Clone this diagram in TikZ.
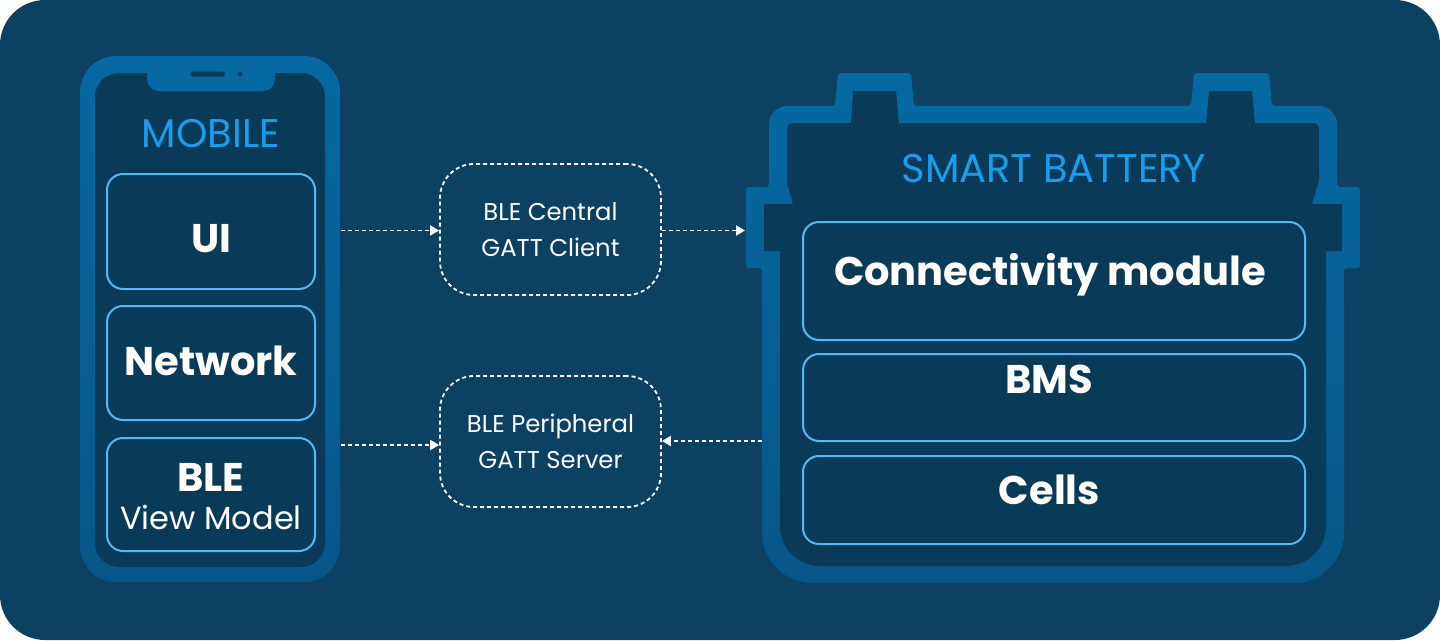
\documentclass[tikz,border=0pt]{standalone}
\usepackage{fontspec}
\setmainfont{Poppins}
\usetikzlibrary{arrows.meta,positioning,calc}

\definecolor{bgblue}{HTML}{0D4161}
\definecolor{screenblue}{HTML}{093B59}
\definecolor{frametop}{HTML}{0669A2}
\definecolor{framebot}{HTML}{075688}
\definecolor{edgeblue}{HTML}{55B8F2}
\definecolor{titleblue}{HTML}{1A9DEA}

\tikzset{
  modbox/.style={draw=edgeblue, line width=2pt, fill=screenblue, rounded corners=16pt, inner sep=0pt},
  linkbox/.style={draw=white, line width=1.8pt, dash pattern=on 4pt off 3pt, rounded corners=34pt,
    minimum width=221pt, minimum height=131pt, align=center, text=white,
    font=\fontsize{24.3}{35.5}\selectfont},
  flow/.style={draw=white, line width=1.8pt, dash pattern=on 4pt off 3pt, -{Triangle[length=9pt,width=10pt]}},
  bigtxt/.style={text=white, inner sep=0pt, anchor=base, font=\fontsize{40}{44}\selectfont\bfseries},
  subtxt/.style={text=white, inner sep=0pt, anchor=base, font=\fontsize{32}{36}\selectfont},
  titletxt/.style={text=titleblue, inner sep=0pt, anchor=base, font=\fontsize{40}{44}\selectfont},
}

\begin{document}
\begin{tikzpicture}[x=1pt,y=-1pt]
    \useasboundingbox (0,0) rectangle (1440,640);
    \fill[bgblue, rounded corners=45pt] (0,0) rectangle (1440,640);

    % Phone
    \shade[top color=frametop, bottom color=framebot, rounded corners=36pt] (80,56) rectangle (340,582);
    \fill[screenblue, rounded corners=24pt] (95,73) rectangle (325,567);
    \fill[frametop, rounded corners=12pt] (147,60) rectangle (275,91);
    \fill[screenblue, rounded corners=2.5pt] (190,71.5) rectangle (225,76.5);
    \fill[screenblue] (240,74) circle (2.6);
    \node[titletxt] (mobile) at (211,147) {MOBILE};

    \node[modbox, minimum width=208pt, minimum height=115pt] (ui) at (211,231.5) {};
    \node[modbox, minimum width=208pt, minimum height=114pt] (net) at (211,363) {};
    \node[modbox, minimum width=208pt, minimum height=113pt] (ble) at (211,494.5) {};
    \node[bigtxt] (uitxt) at (211,252) {UI};
    \node[bigtxt] (nettxt) at (211,375) {Network};
    \node[bigtxt] (bletxt) at (211,491) {BLE};
    \node[subtxt] (vmtxt) at (211,529) {View Model};

    % Battery
    \shade[top color=frametop, bottom color=framebot, rounded corners=3pt]
      (769,187) -- (769,126) arc[start angle=180, end angle=270, radius=20]
      -- (835,106) -- (838,73) -- (911,73) -- (914,106)
      -- (1191,106) -- (1194,73) -- (1269,73) -- (1272,106)
      -- (1317,106) arc[start angle=270, end angle=360, radius=20]
      -- (1337,187) -- (1360,187) -- (1360,268) -- (1344,268)
      -- (1344,531) arc[start angle=0, end angle=90, radius=52]
      -- (814,583) arc[start angle=90, end angle=180, radius=52]
      -- (762,268) -- (746,268) -- (746,187) -- cycle;
    \fill[screenblue]
      (787,183) -- (787,129) arc[start angle=180, end angle=270, radius=6]
      -- (851,123) -- (853,91) -- (896,91) -- (899,123)
      -- (1206,123) -- (1209,91) -- (1252,91) -- (1255,123)
      -- (1313,123) arc[start angle=270, end angle=360, radius=6]
      -- (1319,180) -- (1312,204) -- (1342,204) -- (1342,251) -- (1326,251)
      -- (1326,526) arc[start angle=0, end angle=90, radius=40]
      -- (820,566) arc[start angle=90, end angle=180, radius=40]
      -- (780,251) -- (764,251) -- (764,204) -- (793,204) -- cycle;
    \node[titletxt] (battery) at (1054,182) {SMART BATTERY};

    \node[modbox, minimum width=502pt, minimum height=118pt] (conn) at (1054,281) {};
    \node[modbox, minimum width=502pt, minimum height=87pt] (bms) at (1054,397.5) {};
    \node[modbox, minimum width=502pt, minimum height=88pt] (cells) at (1054,500) {};
    \node[bigtxt] (conntxt) at (1050,285) {Connectivity module};
    \node[bigtxt] (bmstxt) at (1049,393) {BMS};
    \node[bigtxt] (cellstxt) at (1049.5,504) {Cells};

    % Links
    \node[linkbox] (central) at (550.5,229.5) {BLE Central\\GATT Client};
    \node[linkbox] (periph) at (550.5,441.5) {BLE Peripheral\\GATT Server};

    \coordinate (phoneA) at (341,230.5);
    \coordinate (phoneB) at (341,445);
    \coordinate (battA) at (745,230.5);
    \coordinate (battB) at (762,441);

    \draw[flow] (phoneA) -- (phoneA -| central.west);
    \draw[flow] (phoneA -| central.east) -- (battA);
    \draw[flow] (phoneB) -- (phoneB -| periph.west);
    \draw[flow] (battB) -- (battB -| periph.east);
\end{tikzpicture}
\end{document}
